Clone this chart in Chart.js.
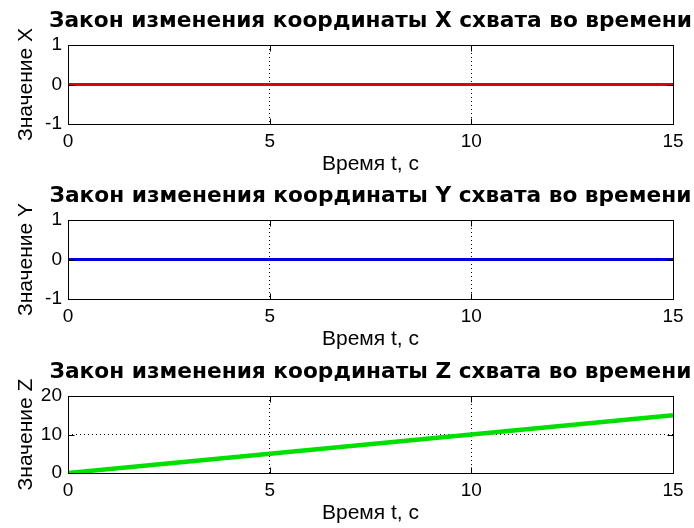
<!DOCTYPE html>
<html>
<head>
<meta charset="utf-8">
<script src="https://cdn.jsdelivr.net/npm/chart.js@4.4.1/dist/chart.umd.min.js"></script>
<style>
  html, body { margin: 0; padding: 0; background: #fff; }
  #fig { position: relative; width: 694px; height: 528px; overflow: hidden; background: #fff; }
  #fig canvas { position: absolute; left: 0; }
</style>
</head>
<body>
<div id="fig">
  <canvas id="plotX"></canvas>
  <canvas id="plotY"></canvas>
  <canvas id="plotZ"></canvas>
</div>
<script>
// Gripper coordinates over time
const timeS  = [0, 5, 10, 15];
const coordX = [0, 0, 0, 0];
const coordY = [0, 0, 0, 0];
const coordZ = [0, 5, 10, 15];

// Tick labels
const timeTicks = [0, 5, 10, 15];
const ticksXY   = [-1, 0, 1];
const ticksZ    = [0, 10, 20];

// Texts
const titleX = 'Закон изменения координаты X схвата во времени';
const titleY = 'Закон изменения координаты Y схвата во времени';
const titleZ = 'Закон изменения координаты Z схвата во времени';
const labelX = 'Значение X';
const labelY = 'Значение Y';
const labelZ = 'Значение Z';
const timeLabel = 'Время t, c';

// Axes box, inward tick marks, title and rotated y label
const axesFrame = {
  id: 'axesFrame',
  afterDatasetsDraw(chart, args, opts) {
    const { ctx, chartArea: a, scales: { x, y } } = chart;
    const L = Math.round(a.left) + 0.5, R = Math.round(a.right) + 0.5;
    const T = Math.round(a.top) + 0.5, B = Math.round(a.bottom) + 0.5;
    ctx.save();
    ctx.setLineDash([]);
    ctx.strokeStyle = '#000';
    ctx.lineWidth = 1;
    ctx.strokeRect(L, T, R - L, B - T);
    ctx.beginPath();
    x.ticks.forEach(t => {
      const px = Math.round(x.getPixelForValue(t.value)) + 0.5;
      ctx.moveTo(px, B); ctx.lineTo(px, B - 6);
      ctx.moveTo(px, T); ctx.lineTo(px, T + 6);
    });
    y.ticks.forEach(t => {
      const py = Math.round(y.getPixelForValue(t.value)) + 0.5;
      ctx.moveTo(L, py); ctx.lineTo(L + 6, py);
      ctx.moveTo(R, py); ctx.lineTo(R - 6, py);
    });
    ctx.stroke();

    ctx.fillStyle = '#000';
    ctx.textAlign = 'center';
    ctx.textBaseline = 'alphabetic';
    ctx.font = 'bold 21.7px "DejaVu Sans"';
    ctx.fillText(opts.title, (a.left + a.right) / 2, a.top - 18);

    ctx.font = '21px "Liberation Sans"';
    ctx.translate(32, (a.top + a.bottom) / 2);
    ctx.rotate(-Math.PI / 2);
    ctx.fillText(opts.yLabel, 0, 0);
    ctx.restore();
  }
};

const tickFont = { family: 'Liberation Sans', size: 19 };
const labelFont = { family: 'Liberation Sans', size: 21 };

function makePanel(p) {
  const canvas = document.getElementById(p.id);
  canvas.width = 694;
  canvas.height = p.height;
  canvas.style.top = p.top + 'px';

  new Chart(canvas, {
    type: 'line',
    data: {
      datasets: [{
        data: timeS.map((t, i) => ({ x: t, y: p.values[i] })),
        borderColor: p.color,
        borderWidth: p.width,
        pointRadius: 0,
        tension: 0,
        fill: false
      }]
    },
    plugins: [axesFrame],
    options: {
      responsive: false,
      animation: false,
      events: [],
      layout: { padding: { top: p.plotTop, left: 0, right: 21, bottom: 0 } },
      plugins: {
        legend: { display: false },
        tooltip: { enabled: false },
        title: { display: false },
        axesFrame: { title: p.title, yLabel: p.yLabel }
      },
      scales: {
        x: {
          type: 'linear',
          min: timeTicks[0],
          max: timeTicks[timeTicks.length - 1],
          afterBuildTicks: s => { s.ticks = timeTicks.map(v => ({ value: v })); },
          afterFit: s => { s.height = p.height - p.plotBottom; },
          grid: { color: '#000', lineWidth: 1, drawTicks: false },
          border: { display: false, dash: [1, 3] },
          ticks: { color: '#000', font: tickFont, padding: 6, maxRotation: 0, autoSkip: false },
          title: {
            display: true, text: timeLabel, color: '#000', font: labelFont,
            padding: { top: 0, bottom: p.height - p.plotBottom - 40 - 12.6 }
          }
        },
        y: {
          type: 'linear',
          min: p.ticks[0],
          max: p.ticks[p.ticks.length - 1],
          afterBuildTicks: s => { s.ticks = p.ticks.map(v => ({ value: v })); },
          afterFit: s => { s.width = 68; },
          grid: { color: '#000', lineWidth: 1, drawTicks: false },
          border: { display: false, dash: [1, 3] },
          ticks: { color: '#000', font: tickFont, padding: 6, autoSkip: false }
        }
      }
    }
  });
}

makePanel({ id: 'plotX', top: 0,   height: 180, plotTop: 45, plotBottom: 124,
            values: coordX, ticks: ticksXY, color: '#e00000', width: 3, title: titleX, yLabel: labelX });
makePanel({ id: 'plotY', top: 175, height: 180, plotTop: 45, plotBottom: 124,
            values: coordY, ticks: ticksXY, color: '#0000dc', width: 3, title: titleY, yLabel: labelY });
makePanel({ id: 'plotZ', top: 351, height: 177, plotTop: 45, plotBottom: 122,
            values: coordZ, ticks: ticksZ, color: '#00e000', width: 4.5, title: titleZ, yLabel: labelZ });
</script>
</body>
</html>
